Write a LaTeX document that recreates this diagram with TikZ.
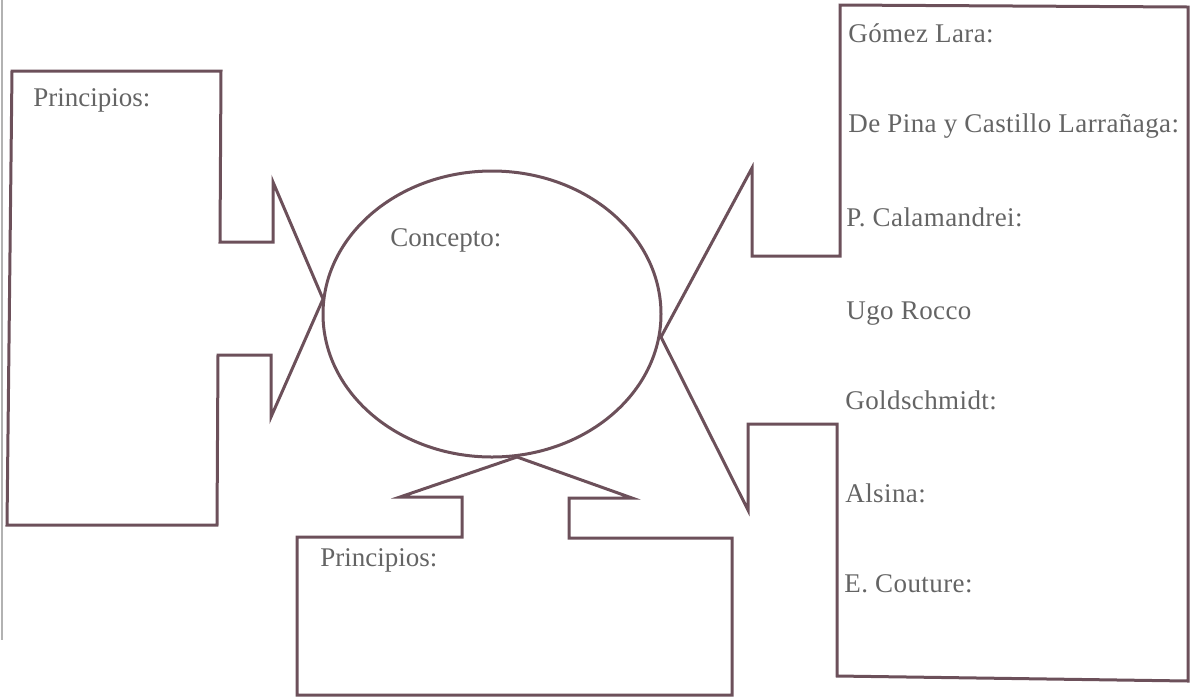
\documentclass[tikz,border=0pt]{standalone}
\usepackage{fontspec}
\setmainfont{Liberation Serif}
\newfontfamily\anchas[LetterSpace=1.5]{Liberation Serif}
\usepackage{tikz}
\definecolor{trazo}{RGB}{108,80,90}
\definecolor{letra}{RGB}{100,100,100}
\tikzset{>=latex,
  contorno/.style={draw=trazo, line width=1.5pt, line join=miter},
  rotulo/.style={anchor=base west, inner sep=0pt, text=letra, font=\fontsize{13.5}{16}\selectfont},
  autor/.style={rotulo, font=\anchas\fontsize{13.5}{16}\selectfont}}

\begin{document}
\begin{tikzpicture}[x=0.5pt,y=-0.5pt]
            \useasboundingbox (0,0) rectangle (1190,698);
            \draw[black!30, line width=0.6pt] (2,0) -- (2,640);
            % caja izquierda
            \draw[contorno] (12,71) -- (221,71) -- (220,242) -- (273,242) -- (273,182)
                -- (323,299) -- (271,417) -- (271,355) -- (218,355) -- (217,525) -- (7,525) -- cycle;
            % elipse central
            \draw[contorno] (492,314) ellipse [x radius=169, y radius=143];
            % caja inferior
            \draw[contorno] (517,457) -- (400,497) -- (462,497) -- (462,537) -- (297,537) -- (297,695)
                -- (732,695) -- (732,538) -- (569,538) -- (569,498) -- (632,498) -- cycle;
            % caja derecha
            \draw[contorno] (661,337) -- (752,168) -- (752,256) -- (840,256) -- (840,5) -- (1188,7)
                -- (1188,681) -- (837,676) -- (837,424) -- (748,424) -- (748,510) -- cycle;
            \node[rotulo] (princizq) at (33,106) {Principios:};
            \node[rotulo] (concepto) at (390,246) {Concepto:};
            \node[rotulo] (princinf) at (320,566) {Principios:};
            \node[autor] (gomez) at (848,42) {Gómez Lara:};
            \node[autor] (depina) at (848,132) {De Pina y Castillo Larrañaga:};
            \node[autor] (calamandrei) at (846,226) {P. Calamandrei:};
            \node[autor] (rocco) at (846,319) {Ugo Rocco};
            \node[autor] (goldschmidt) at (845,409) {Goldschmidt:};
            \node[autor] (alsina) at (845,502) {Alsina:};
            \node[autor] (couture) at (844,592) {E. Couture:};
        \end{tikzpicture}
\end{document}
